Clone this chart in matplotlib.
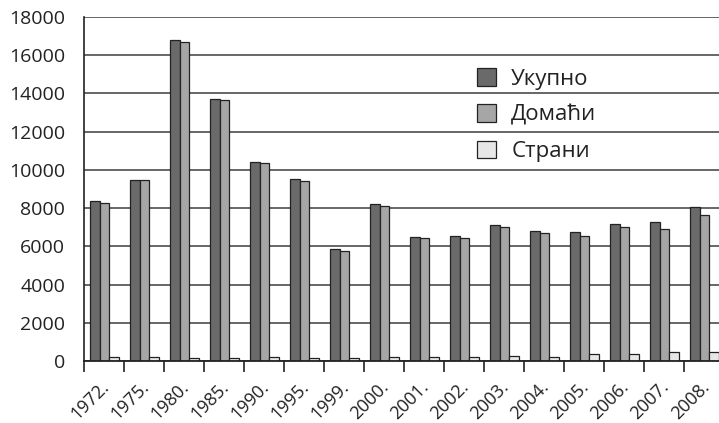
import matplotlib
matplotlib.use("Agg")
import matplotlib.pyplot as plt
import matplotlib.transforms as mtransforms
import numpy as np

plt.rcParams['font.family'] = ['Open Sans', 'DejaVu Sans']

years = ["1972.", "1975.", "1980.", "1985.", "1990.", "1995.", "1999.", "2000.",
         "2001.", "2002.", "2003.", "2004.", "2005.", "2006.", "2007.", "2008."]
ukupno = [8370, 9490, 16790, 13720, 10410, 9520, 5860, 8230,
          6480, 6520, 7110, 6800, 6750, 7170, 7290, 8060]
domaci = [8260, 9450, 16670, 13680, 10350, 9420, 5750, 8110,
          6410, 6430, 7020, 6690, 6550, 6990, 6900, 7650]
strani = [190, 190, 180, 140, 190, 170, 140, 190,
          190, 190, 245, 210, 385, 350, 470, 470]
series_names = ["Укупно", "Домаћи", "Страни"]
yticks = [0, 2000, 4000, 6000, 8000, 10000, 12000, 14000, 16000, 18000]

fig = plt.figure(figsize=(7.19, 4.23), dpi=100)
ax = fig.add_axes([84 / 719, 1 - 361 / 423, 640 / 719, 344 / 423])

x = np.arange(len(years))
w = 0.24
colors = ["#6a6a6a", "#a6a6a6", "#e7e7e7"]
offsets = [-0.225, 0.015, 0.255]
for vals, off, col, name in zip([ukupno, domaci, strani], offsets, colors, series_names):
    ax.bar(x + off, vals, width=w, color=col, edgecolor="#222222",
           linewidth=0.9, label=name, zorder=3)

ax.set_xlim(-0.5, len(years) - 0.5)
ax.set_ylim(0, 18000)
ax.set_yticks(yticks)
ax.set_yticklabels([str(v) for v in yticks], fontsize=14, color="#222222")
ax.tick_params(axis='y', length=0, pad=13.5)

ax.set_xticks(x)
ax.set_xticklabels(years, fontsize=13, color="#222222", rotation=45,
                   ha='right', va='baseline', rotation_mode='anchor')
ax.tick_params(axis='x', which='major', length=0, pad=19)
shift = mtransforms.ScaledTranslation(6 / 100, 0, fig.dpi_scale_trans)
for lab in ax.get_xticklabels():
    lab.set_transform(lab.get_transform() + shift)
ax.set_xticks(np.arange(len(years) + 1) - 0.5, minor=True)
ax.tick_params(axis='x', which='minor', length=8, width=1.2, color="#222222",
               direction='out')

ax.grid(axis='y', color="#5a5a5a", linewidth=1.3, zorder=0)
ax.set_axisbelow(True)
for s in ["top", "right"]:
    ax.spines[s].set_visible(False)
ax.spines["left"].set_color("#222222")
ax.spines["left"].set_linewidth(1.2)
ax.spines["bottom"].set_color("#222222")
ax.spines["bottom"].set_linewidth(1.3)
ax.spines["bottom"].set_zorder(4)

leg = ax.legend(loc='upper left', bbox_to_anchor=(477 / 719, 1 - 68 / 423),
                bbox_transform=fig.transFigure, frameon=False, fontsize=16,
                handlelength=0.86, handleheight=0.86, labelspacing=0.66,
                handletextpad=0.68, borderpad=0, borderaxespad=0)
for t in leg.get_texts():
    t.set_color("#222222")

fig.savefig("out.png", dpi=100)
